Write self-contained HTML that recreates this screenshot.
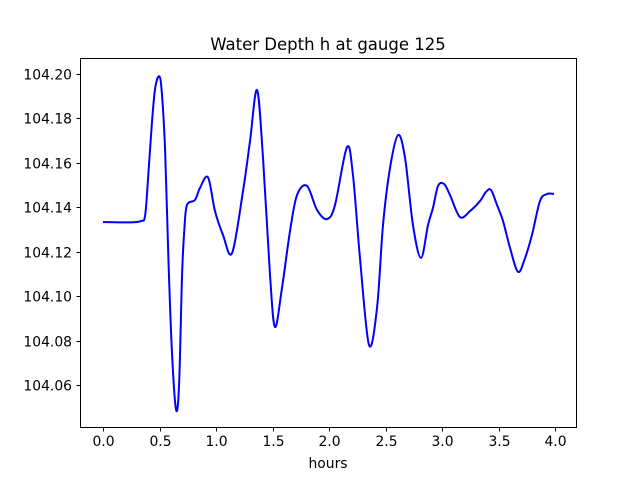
<!DOCTYPE html>
<html><head><meta charset="utf-8"><style>
html,body{margin:0;padding:0;background:#fff;}
svg{display:block;font-family:"DejaVu Sans","Liberation Sans",sans-serif;}
</style></head><body>
<svg id="chart" width="640" height="480">
<rect x="0" y="0" width="640" height="480" fill="#fff"/>
<text x="328" y="50" text-anchor="middle" font-size="16.5">Water Depth h at gauge 125</text>
<g id="xticks"></g>
<g id="yticks"></g>
<path id="series" fill="none" stroke="#0000ff" stroke-width="2" stroke-linejoin="round"/>
<rect x="80.5" y="58.5" width="496" height="369" fill="none" stroke="#000" stroke-width="1"/>
<text x="328" y="468" text-anchor="middle" font-size="13.9">hours</text>
</svg>
<script>
const hours=[0,0.239,0.336,0.372,0.398,0.43,0.46,0.496,0.52,0.55,0.58,0.61,0.646,0.673,0.70,0.72,0.743,0.814,0.858,0.929,0.991,1.062,1.142,1.239,1.301,1.363,1.416,1.478,1.522,1.584,1.655,1.717,1.805,1.894,1.982,2.053,2.159,2.212,2.274,2.354,2.425,2.478,2.540,2.611,2.673,2.743,2.814,2.876,2.920,2.965,3.018,3.071,3.159,3.248,3.336,3.389,3.434,3.487,3.540,3.602,3.673,3.735,3.796,3.867,3.929,3.991];
const depth=[104.1334,104.1332,104.1338,104.1361,104.1523,104.1760,104.1930,104.1990,104.1920,104.1650,104.1150,104.0750,104.0490,104.0600,104.1100,104.1300,104.1410,104.1433,104.1487,104.1535,104.1383,104.1275,104.1194,104.1473,104.1698,104.1928,104.1622,104.1095,104.0861,104.1037,104.1293,104.1455,104.1496,104.1388,104.1347,104.1410,104.1671,104.1545,104.1172,104.0780,104.0947,104.1320,104.1577,104.1725,104.1622,104.1320,104.1172,104.1320,104.1397,104.1496,104.1505,104.1455,104.1356,104.1383,104.1428,104.1469,104.1478,104.1410,104.1338,104.1217,104.1109,104.1172,104.1275,104.1428,104.1460,104.1460];
const xTickValues=[0,0.5,1,1.5,2,2.5,3,3.5,4];
const xTickLabels=["0.0","0.5","1.0","1.5","2.0","2.5","3.0","3.5","4.0"];
const yTickValues=[104.06,104.08,104.10,104.12,104.14,104.16,104.18,104.20];
const yTickLabels=["104.06","104.08","104.10","104.12","104.14","104.16","104.18","104.20"];

const NS="http://www.w3.org/2000/svg";
function xs(h){return 103+h*113;}
function ys(v){return 74+(104.20-v)*2221.4;}

const xg=document.getElementById('xticks');
xTickValues.forEach((t,i)=>{
  const x=Math.round(xs(t))+0.5;
  const l=document.createElementNS(NS,'line');
  
  
  l.setAttribute('x1',x);l.setAttribute('x2',x);l.setAttribute('y1',427.5);l.setAttribute('y2',431.5);l.setAttribute('stroke','#000');
  xg.appendChild(l);
  const tx=document.createElementNS(NS,'text');
  
  
  tx.setAttribute('x',x);tx.setAttribute('y',446);tx.setAttribute('text-anchor','middle');tx.setAttribute('font-size','13.9');
  tx.textContent=xTickLabels[i];
  xg.appendChild(tx);
});
const yg=document.getElementById('yticks');
yTickValues.forEach((t,i)=>{
  const y=Math.round(ys(t))+0.5;
  const l=document.createElementNS(NS,'line');
  
  
  l.setAttribute('x1',76.5);l.setAttribute('x2',80.5);l.setAttribute('y1',y);l.setAttribute('y2',y);l.setAttribute('stroke','#000');
  yg.appendChild(l);
  const tx=document.createElementNS(NS,'text');
  
  
  tx.setAttribute('x',72);tx.setAttribute('y',y+5);tx.setAttribute('text-anchor','end');tx.setAttribute('font-size','13.9');
  tx.textContent=yTickLabels[i];
  yg.appendChild(tx);
});
// Catmull-Rom smoothing
const pts=hours.map((h,i)=>[xs(h),ys(depth[i])]);
let d='M'+pts[0][0]+','+pts[0][1];
for(let i=0;i<pts.length-1;i++){
  const p0=pts[Math.max(0,i-1)],p1=pts[i],p2=pts[i+1],p3=pts[Math.min(pts.length-1,i+2)];
  const c1=[p1[0]+(p2[0]-p0[0])/6,p1[1]+(p2[1]-p0[1])/6];
  const c2=[p2[0]-(p3[0]-p1[0])/6,p2[1]-(p3[1]-p1[1])/6];
  d+=' C'+c1[0].toFixed(2)+','+c1[1].toFixed(2)+' '+c2[0].toFixed(2)+','+c2[1].toFixed(2)+' '+p2[0].toFixed(2)+','+p2[1].toFixed(2);
}
document.getElementById('series').setAttribute('d',d);
</script>
</body></html>
